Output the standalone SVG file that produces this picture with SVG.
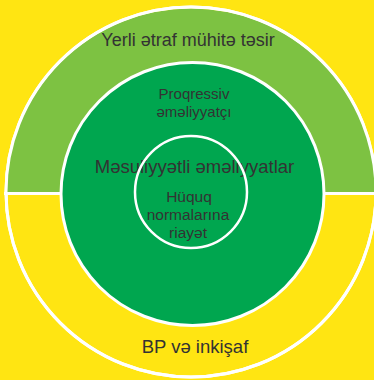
<svg xmlns="http://www.w3.org/2000/svg" width="374" height="380" viewBox="0 0 374 380">
  <style>
    .lbl { font-family: "Liberation Sans", Arial, sans-serif; fill: #333333; text-anchor: middle; }
    .ring { stroke: #ffffff; stroke-width: 3; }
  </style>
  <rect x="0" y="0" width="374" height="380" fill="#FFE512"/>
  <g id="outer-ring">
    <circle class="ring" cx="191" cy="192" r="185" fill="#FFE512"/>
    <path d="M 6,193.5 A 185 185 0 1 1 376,193.5 Z" fill="#7DC242"/>
    <circle cx="191" cy="192" r="185" fill="none" stroke="#ffffff" stroke-width="3"/>
    <line x1="4" y1="193.5" x2="376" y2="193.5" stroke="#ffffff" stroke-width="3"/>
    <text class="lbl" x="188" y="46" font-size="18">Yerli ətraf mühitə təsir</text>
    <text class="lbl" x="195" y="353" font-size="18.5">BP və inkişaf</text>
  </g>
  <g id="middle-ring">
    <circle class="ring" cx="192.5" cy="194" r="131.5" fill="#00A64F"/>
    <text class="lbl" x="194" y="99" font-size="15">Proqressiv</text>
    <text class="lbl" x="194" y="117" font-size="15">əməliyyatçı</text>
    <text class="lbl" x="194.5" y="173" font-size="18.5">Məsuliyyətli əməliyyatlar</text>
  </g>
  <g id="inner-circle">
    <circle cx="191" cy="192" r="56" fill="none" stroke="#ffffff" stroke-width="2.5"/>
    <text class="lbl" x="189" y="202" font-size="15.5">Hüquq</text>
    <text class="lbl" x="188" y="220" font-size="15.5">normalarına</text>
    <text class="lbl" x="188" y="238" font-size="15.5">riayət</text>
  </g>
</svg>
